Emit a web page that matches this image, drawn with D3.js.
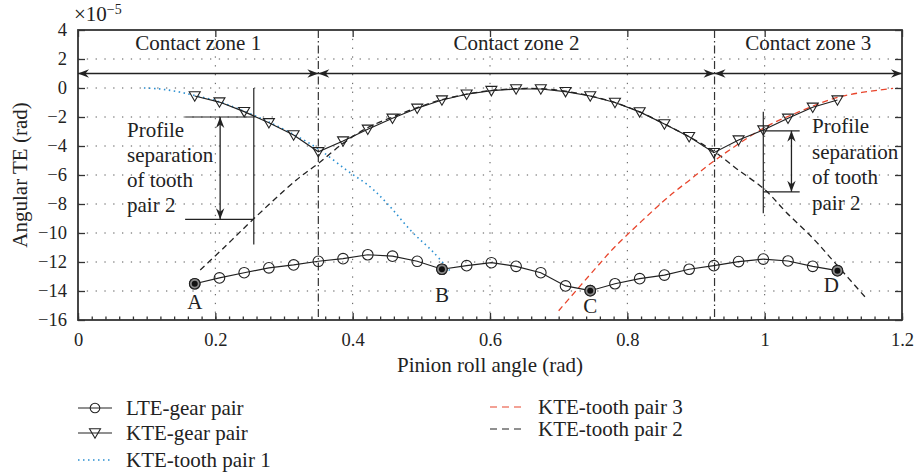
<!DOCTYPE html>
<html>
<head>
<meta charset="utf-8">
<script src="https://cdn.jsdelivr.net/npm/d3@7"></script>
<style>
  html, body { margin: 0; padding: 0; background: #fff; }
  svg { display: block; }
  text { font-family: "Liberation Serif", "DejaVu Serif", serif; fill: #222; }
</style>
</head>
<body>
<svg id="chart" width="914" height="476"></svg>
<script>
// Pinion roll angle samples (rad) shared by the gear-pair curves
const pinionAngle = [0.170, 0.206, 0.242, 0.278, 0.314, 0.350, 0.386, 0.422, 0.458, 0.494,
  0.530, 0.566, 0.602, 0.638, 0.674, 0.710, 0.746, 0.782, 0.818, 0.854,
  0.890, 0.926, 0.962, 0.998, 1.034, 1.070, 1.106];

// Loaded transmission error of the gear pair (×1e-5 rad)
const lteGearPair = [-13.5, -13.1, -12.74, -12.4, -12.2, -11.95, -11.77, -11.5, -11.6, -11.95,
  -12.5, -12.25, -12.05, -12.3, -12.74, -13.65, -13.98, -13.5, -13.15, -12.9,
  -12.5, -12.25, -11.97, -11.8, -11.93, -12.3, -12.6];

// Kinematic transmission error of the gear pair (×1e-5 rad)
const kteGearPair = [-0.55, -0.97, -1.63, -2.4, -3.24, -4.4, -3.66, -2.85, -2.09, -1.4,
  -0.83, -0.43, -0.18, -0.07, -0.07, -0.25, -0.55, -1.0, -1.65, -2.48,
  -3.36, -4.46, -3.59, -2.9, -2.09, -1.33, -0.83];

// Kinematic transmission error of individual tooth pairs
const tooth1Angle = [0.096, 0.115, 0.131, 0.148, 0.165, 0.206, 0.242, 0.278, 0.314, 0.350,
  0.391, 0.425, 0.450, 0.486, 0.517, 0.544];
const tooth1KTE = [0, -0.05, -0.14, -0.28, -0.46, -0.95, -1.6, -2.35, -3.2, -4.2,
  -5.66, -6.8, -7.95, -9.9, -11.3, -12.74];

const tooth2Angle = [0.178, 0.215, 0.255, 0.318, 0.350, 0.386, 0.420, 0.458, 0.494, 0.530,
  0.566, 0.602, 0.638, 0.674, 0.710, 0.746, 0.782, 0.818, 0.854, 0.890,
  0.927, 0.960, 1.000, 1.032, 1.071, 1.105, 1.146];
const tooth2KTE = [-12.55, -10.9, -9.06, -6.34, -5.2, -3.82, -2.78, -2.0, -1.35, -0.8,
  -0.42, -0.17, -0.05, -0.05, -0.22, -0.55, -1.0, -1.65, -2.48, -3.36,
  -4.4, -5.6, -7.0, -8.6, -10.4, -12.2, -14.4];

const tooth3Angle = [0.700, 0.760, 0.782, 0.860, 0.891, 0.928, 0.998, 1.039, 1.110, 1.187];
const tooth3KTE = [-15.36, -12.1, -10.95, -7.5, -6.34, -4.97, -2.78, -1.86, -0.6, -0.02];

// Marked transition points on the LTE curve
const keyPointLabels = ["A", "B", "C", "D"];
const keyPointIndex = [0, 10, 16, 26];

// Contact zones
const zoneBounds = [0, 0.35, 0.927, 1.2];
const zoneLabels = ["Contact zone 1", "Contact zone 2", "Contact zone 3"];

// Axis ticks
const xTicks = [0, 0.2, 0.4, 0.6, 0.8, 1, 1.2];
const yTicks = [4, 2, 0, -2, -4, -6, -8, -10, -12, -14, -16];

const legendLabels = ["LTE-gear pair", "KTE-gear pair", "KTE-tooth pair 1", "KTE-tooth pair 3", "KTE-tooth pair 2"];

const svg = d3.select("#chart");
const x = d3.scaleLinear().domain([0, 1.2]).range([78, 902]);
const y = d3.scaleLinear().domain([-16, 4]).range([320, 30]);
const ink = "#222";
const red = "#e8452c";
const blue = "#2a8fd1";

// grid
const grid = svg.append("g").attr("stroke", "#555").attr("stroke-width", 1)
  .attr("stroke-dasharray", "1.3,7.5");
grid.selectAll(".gx").data(xTicks.slice(1, -1)).join("line")
  .attr("x1", d => x(d)).attr("x2", d => x(d)).attr("y1", y(4)).attr("y2", y(-16));
grid.selectAll(".gy").data(yTicks.slice(1, -1)).join("line")
  .attr("x1", x(0)).attr("x2", x(1.2)).attr("y1", d => y(d)).attr("y2", d => y(d));

// axes
const fmt = d3.format("");
const gx = svg.append("g").attr("transform", `translate(0,${y(-16)})`)
  .call(d3.axisBottom(x).tickValues(xTicks).tickFormat(fmt).tickSize(-7).tickPadding(13));
const gxMinor = svg.append("g").attr("transform", `translate(0,${y(-16)})`)
  .call(d3.axisBottom(x).tickValues(d3.range(0, 61).map(i => i * 0.02)).tickFormat("").tickSize(-3.5));
const gxTop = svg.append("g").attr("transform", `translate(0,${y(4)})`)
  .call(d3.axisTop(x).tickValues(xTicks).tickFormat("").tickSize(-7));
const gy = svg.append("g").attr("transform", `translate(${x(0)},0)`)
  .call(d3.axisLeft(y).tickValues(yTicks).tickFormat(fmt).tickSize(-7).tickPadding(11));
const gyRight = svg.append("g").attr("transform", `translate(${x(1.2)},0)`)
  .call(d3.axisRight(y).tickValues(yTicks).tickFormat("").tickSize(-7));
[gx, gxMinor, gxTop, gy, gyRight].forEach(g => {
  g.select(".domain").remove();
  g.selectAll("line").attr("stroke", "#333").attr("stroke-width", 1.3);
});
gx.selectAll("text").attr("font-size", 18.5).attr("fill", ink)
  .style("font-family", '"Liberation Serif", serif');
gy.selectAll("text").attr("font-size", 18.5).attr("fill", ink)
  .style("font-family", '"Liberation Serif", serif');

// frame
svg.append("rect").attr("x", x(0)).attr("y", y(4))
  .attr("width", x(1.2) - x(0)).attr("height", y(-16) - y(4))
  .attr("fill", "none").attr("stroke", "#333").attr("stroke-width", 1.8);

// exponent label
const expo = svg.append("text").attr("x", 74).attr("y", 21).attr("font-size", 21);
expo.append("tspan").text("×10");
expo.append("tspan").attr("font-size", 14).attr("dy", -7).text("−5");

// axis titles
svg.append("text").attr("x", (x(0) + x(1.2)) / 2).attr("y", 372).attr("text-anchor", "middle")
  .attr("font-size", 21).text("Pinion roll angle (rad)");
svg.append("text").attr("transform", `translate(27,${(y(4) + y(-16)) / 2}) rotate(-90)`)
  .attr("text-anchor", "middle").attr("font-size", 21).text("Angular TE (rad)");

// zone boundaries
svg.append("g").selectAll("line").data(zoneBounds.slice(1, -1)).join("line")
  .attr("x1", d => x(d)).attr("x2", d => x(d)).attr("y1", y(4)).attr("y2", y(-16))
  .attr("stroke", "#333").attr("stroke-width", 1.2).attr("stroke-dasharray", "8,3,1.5,3");

// arrow helpers
function arrowHead(g, tipX, tipY, angle) {
  const L = 11, W = 4.2, N = 7.5;
  const pts = [[0, 0], [-L, -W], [-N, 0], [-L, W]];
  g.append("path")
    .attr("d", "M" + pts.map(p => p.join(",")).join("L") + "Z")
    .attr("transform", `translate(${tipX},${tipY}) rotate(${angle})`)
    .attr("fill", ink);
}
function doubleArrowH(g, x1, x2, yy) {
  g.append("line").attr("x1", x1).attr("x2", x2).attr("y1", yy).attr("y2", yy)
    .attr("stroke", ink).attr("stroke-width", 1.3);
  arrowHead(g, x1, yy, 180);
  arrowHead(g, x2, yy, 0);
}
function doubleArrowV(g, xx, y1, y2) {
  g.append("line").attr("x1", xx).attr("x2", xx).attr("y1", y1).attr("y2", y2)
    .attr("stroke", ink).attr("stroke-width", 1.3);
  arrowHead(g, xx, y1, -90);
  arrowHead(g, xx, y2, 90);
}

// contact zone arrows and titles
const zones = svg.append("g");
zoneLabels.forEach((lab, i) => {
  doubleArrowH(zones, x(zoneBounds[i]), x(zoneBounds[i + 1]), y(1));
  zones.append("text").attr("x", x((zoneBounds[i] + zoneBounds[i + 1]) / 2)).attr("y", 50)
    .attr("text-anchor", "middle").attr("font-size", 21).text(lab);
});

// curves
const line = d3.line().x(d => x(d[0])).y(d => y(d[1]));
const smooth = d3.line().x(d => x(d[0])).y(d => y(d[1])).curve(d3.curveCatmullRom);
const zip = (a, b) => a.map((v, i) => [v, b[i]]);

svg.append("path").datum(zip(tooth1Angle, tooth1KTE)).attr("d", smooth)
  .attr("fill", "none").attr("stroke", blue).attr("stroke-width", 1.6).attr("stroke-dasharray", "1.5,3.5");
svg.append("path").datum(zip(tooth2Angle, tooth2KTE)).attr("d", smooth)
  .attr("fill", "none").attr("stroke", ink).attr("stroke-width", 1.3).attr("stroke-dasharray", "6,4");
svg.append("path").datum(zip(tooth3Angle, tooth3KTE)).attr("d", smooth)
  .attr("fill", "none").attr("stroke", red).attr("stroke-width", 1.3).attr("stroke-dasharray", "6,4");

const ktePts = zip(pinionAngle, kteGearPair);
const ltePts = zip(pinionAngle, lteGearPair);
svg.append("path").datum(ktePts).attr("d", line).attr("fill", "none").attr("stroke", ink).attr("stroke-width", 1.2);
svg.append("path").datum(ltePts).attr("d", line).attr("fill", "none").attr("stroke", ink).attr("stroke-width", 1.2);

const tri = "M-5.5,-4.2L5.5,-4.2L0,5.2Z";
svg.append("g").selectAll("path").data(ktePts).join("path")
  .attr("d", tri).attr("transform", d => `translate(${x(d[0])},${y(d[1])})`)
  .attr("fill", "none").attr("stroke", ink).attr("stroke-width", 1.1);
svg.append("g").selectAll("circle").data(ltePts).join("circle")
  .attr("cx", d => x(d[0])).attr("cy", d => y(d[1])).attr("r", 5.3)
  .attr("fill", "none").attr("stroke", ink).attr("stroke-width", 1.1);

// key points A-D
const labelOffset = [[0, 25], [0, 33], [0, 22], [-6, 21]];
keyPointIndex.forEach((idx, i) => {
  const px = x(pinionAngle[idx]), py = y(lteGearPair[idx]);
  svg.append("circle").attr("cx", px).attr("cy", py).attr("r", 5.3)
    .attr("fill", "#8a8a8a").attr("stroke", ink).attr("stroke-width", 1.1);
  svg.append("circle").attr("cx", px).attr("cy", py).attr("r", 3).attr("fill", "#111");
  svg.append("text").attr("x", px + labelOffset[i][0]).attr("y", py + labelOffset[i][1])
    .attr("text-anchor", "middle").attr("font-size", 21).text(keyPointLabels[i]);
});

// profile separation annotations
const sepText = ["Profile", "separation", "of tooth", "pair 2"];
function separation(g, cfg) {
  g.append("line").attr("x1", x(cfg.vx)).attr("x2", x(cfg.vx))
    .attr("y1", y(cfg.vTop)).attr("y2", y(cfg.vBot)).attr("stroke", ink).attr("stroke-width", 1.2);
  [cfg.h1, cfg.h2].forEach(h => {
    g.append("line").attr("x1", x(cfg.hx0)).attr("x2", x(cfg.hx1))
      .attr("y1", y(h)).attr("y2", y(h)).attr("stroke", ink).attr("stroke-width", 1.2);
  });
  doubleArrowV(g, x(cfg.ax), y(cfg.h1), y(cfg.h2));
  sepText.forEach((t, i) => {
    g.append("text").attr("x", cfg.tx).attr("y", cfg.ty + i * cfg.dy)
      .attr("font-size", 21).text(t);
  });
}
const ann = svg.append("g");
separation(ann, { vx: 0.256, vTop: 0, vBot: -10.8, h1: -2, h2: -9.06, hx0: 0.156, hx1: 0.256, ax: 0.207, tx: 127, ty: 137, dy: 25 });
separation(ann, { vx: 0.998, vTop: -1.63, vBot: -8.64, h1: -2.95, h2: -7.16, hx0: 0.998, hx1: 1.051, ax: 1.039, tx: 812, ty: 133, dy: 25.5 });

// legend
const legend = svg.append("g");
const legendPos = [[78, 408], [78, 433], [78, 460], [490, 407], [490, 429]];
legendLabels.forEach((lab, i) => {
  const [lx, ly] = legendPos[i];
  const ln = legend.append("line").attr("x1", lx).attr("x2", lx + 34).attr("y1", ly).attr("y2", ly)
    .attr("stroke-width", 1.2);
  if (i === 0) {
    ln.attr("stroke", ink);
    legend.append("circle").attr("cx", lx + 17).attr("cy", ly).attr("r", 4.8)
      .attr("fill", "none").attr("stroke", ink).attr("stroke-width", 1.1);
  } else if (i === 1) {
    ln.attr("stroke", ink);
    legend.append("path").attr("d", tri).attr("transform", `translate(${lx + 17},${ly})`)
      .attr("fill", "none").attr("stroke", ink).attr("stroke-width", 1.1);
  } else if (i === 2) {
    ln.attr("stroke", blue).attr("stroke-width", 1.5).attr("stroke-dasharray", "1.5,3.5");
  } else if (i === 3) {
    ln.attr("stroke", red).attr("stroke-dasharray", "7,5");
  } else {
    ln.attr("stroke", ink).attr("stroke-dasharray", "7,5");
  }
  legend.append("text").attr("x", i < 3 ? 126 : 538).attr("y", ly + 7)
    .attr("font-size", 21).text(lab);
});
</script>
</body>
</html>
